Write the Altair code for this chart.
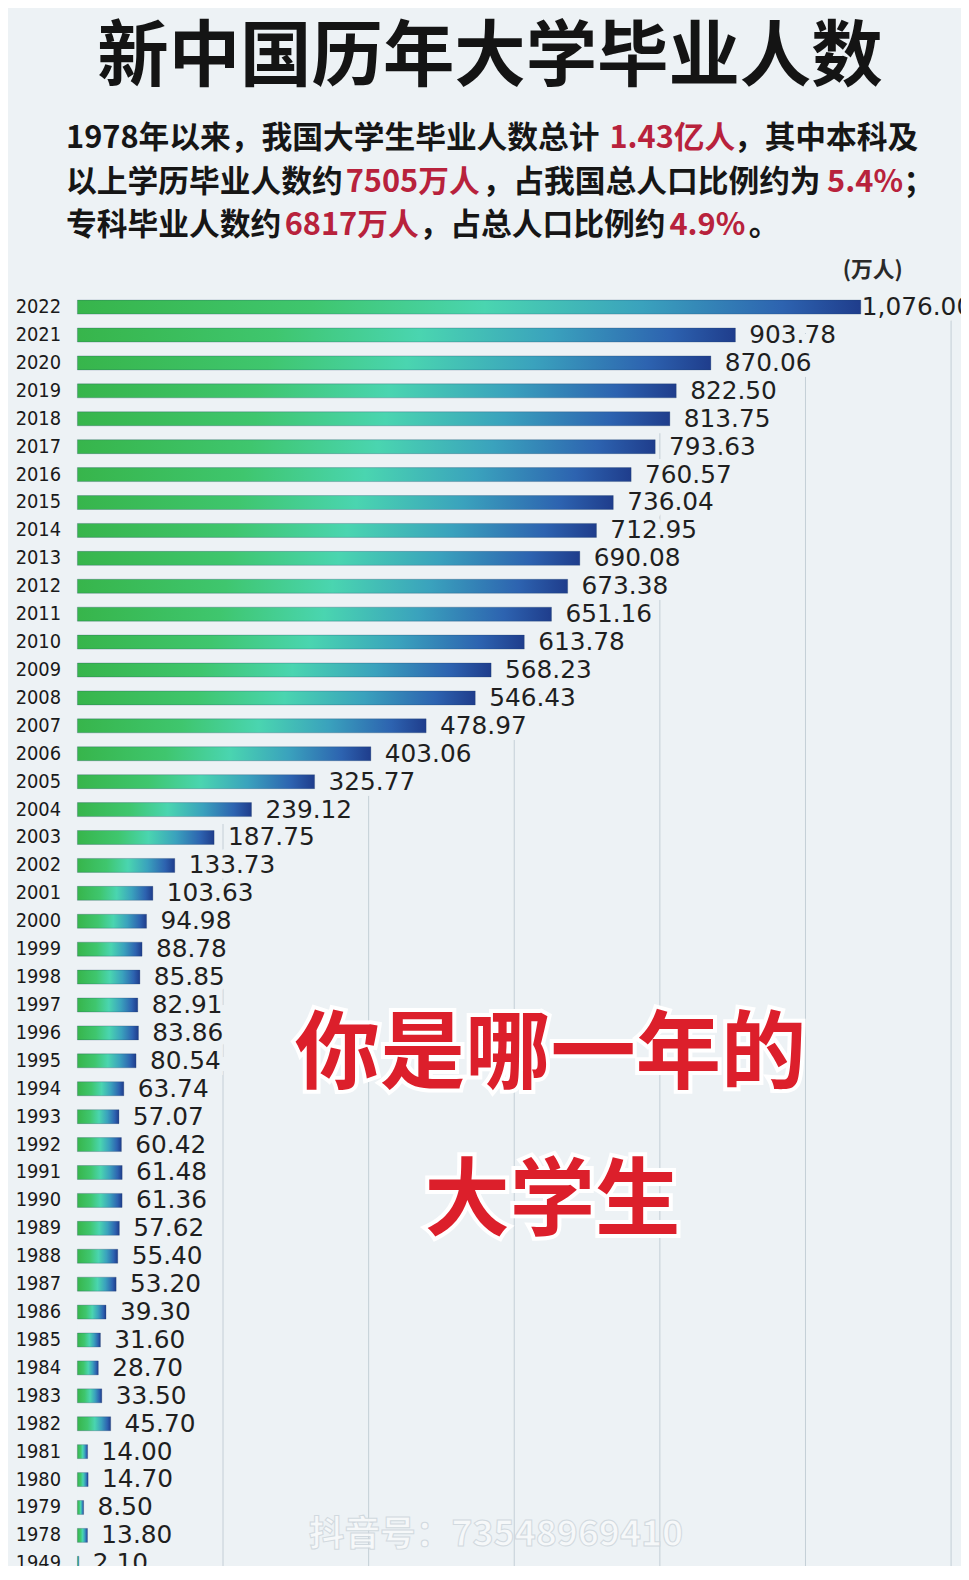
import altair as alt
import pandas as pd

# ---------------- data ----------------
years = ["2022", "2021", "2020", "2019", "2018", "2017", "2016", "2015", "2014", "2013",
         "2012", "2011", "2010", "2009", "2008", "2007", "2006", "2005", "2004", "2003",
         "2002", "2001", "2000", "1999", "1998", "1997", "1996", "1995", "1994", "1993",
         "1992", "1991", "1990", "1989", "1988", "1987", "1986", "1985", "1984", "1983",
         "1982", "1981", "1980", "1979", "1978", "1949"]
graduates = [1076.00, 903.78, 870.06, 822.50, 813.75, 793.63, 760.57, 736.04, 712.95, 690.08,
             673.38, 651.16, 613.78, 568.23, 546.43, 478.97, 403.06, 325.77, 239.12, 187.75,
             133.73, 103.63, 94.98, 88.78, 85.85, 82.91, 83.86, 80.54, 63.74, 57.07,
             60.42, 61.48, 61.36, 57.62, 55.40, 53.20, 39.30, 31.60, 28.70, 33.50,
             45.70, 14.00, 14.70, 8.50, 13.80, 2.10]
grid_values = [200, 400, 600, 800, 1000, 1200]

title_text = "新中国历年大学毕业人数"
unit_text = "(万人)"
# subtitle lines as (text, is_highlight) segments
sub_line1 = [("1978年以来，我国大学生毕业人数总计", False), ("1.43亿人", True), ("，其中本科及", False)]
sub_line2 = [("以上学历毕业人数约", False), ("7505万人", True), ("，占我国总人口比例约为", False),
             ("5.4%", True), ("；", False)]
sub_line3 = [("专科毕业人数约", False), ("6817万人", True), ("，占总人口比例约", False),
             ("4.9%", True), ("。", False)]
overlay_line1 = "你是哪一年的"
overlay_line2 = "大学生"
watermark = "抖音号：73548969410"

df = pd.DataFrame({"year": years, "value": graduates})
grid_df = pd.DataFrame({"g": grid_values})

# ---------------- layout ----------------
OX, OY = 78, 289          # page position of the plot origin
W, H = 881, 1277
STEP = 28.15
BG = "#edf2f5"
RED = "#b8223c"
CJK = "Noto Sans CJK SC"


def vx(px):
    return px - OX


def vy(py):
    return py - OY


xscale = alt.Scale(domain=[0, 1200], nice=False, zero=True)
yscale = alt.Scale(paddingInner=0.5, paddingOuter=0.25, range=[0, STEP * len(years)])
Y = alt.Y("year:N", sort=years, scale=yscale)

base = alt.Chart(df)

grid = alt.Chart(grid_df).mark_rule(color="#c3ced6", strokeWidth=1).encode(
    x=alt.X("g:Q", scale=xscale, axis=None),
    y=alt.value(0),
    y2=alt.value(1320),
)

# background band behind each bar + label (hides grid lines like the original)
band_bg = base.mark_bar(color=BG, size=STEP + 1).encode(
    x=alt.X("value:Q", scale=xscale, axis=None),
    y=alt.Y("year:N", sort=years, scale=yscale,
            axis=alt.Axis(title=None, domain=False, ticks=False, grid=False,
                          labelFont="DejaVu Sans Condensed", labelFontSize=20,
                          labelColor="#1a1a1a", labelPadding=17, labelAlign="right")),
)

gradient = alt.Gradient(
    gradient="linear",
    stops=[
        alt.GradientStop(color="#37b54b", offset=0),
        alt.GradientStop(color="#3fc66e", offset=0.3),
        alt.GradientStop(color="#4ad5b0", offset=0.52),
        alt.GradientStop(color="#3aa2bd", offset=0.72),
        alt.GradientStop(color="#2d63b0", offset=0.9),
        alt.GradientStop(color="#1f3d8c", offset=1),
    ],
    x1=0, x2=1, y1=0, y2=0,
)

bars = base.mark_bar(color=gradient, stroke="#1d3f66", strokeWidth=0.6, strokeOpacity=0.45).encode(
    x=alt.X("value:Q", scale=xscale),
    y=Y,
)

label_common = dict(align="left", baseline="middle", font="DejaVu Sans", fontSize=25)
big = "datum.value >= 1000"
small = "datum.value < 1000"


def value_text(dx, cond, **kw):
    return base.transform_filter(cond).mark_text(dx=dx, **label_common, **kw).encode(
        x=alt.X("value:Q", scale=xscale),
        y=Y,
        text=alt.Text("value:Q", format=",.2f"),
    )


halo_small = value_text(14, small, color=BG, stroke=BG, strokeWidth=12)
halo_big = value_text(1, big, color=BG, stroke=BG, strokeWidth=12)
labels_small = value_text(14, small, color="#1f1f1f")
labels_big = value_text(1, big, color="#1f1f1f")


def txt(text, x, y, **kw):
    return alt.Chart(pd.DataFrame({"t": [text]})).mark_text(**kw).encode(
        text="t:N", x=alt.value(x), y=alt.value(y)
    )


ann = []
ann.append(txt(title_text, vx(494), vy(52), font=CJK, fontSize=72, fontWeight="bold",
               color="#141414", align="center", baseline="middle"))

line_specs = [
    (sub_line1, [66.5, 614.5, 740], 134),
    (sub_line2, [66.5, 348.5, 486.5, 834, 911], 178),
    (sub_line3, [66.5, 287, 423, 675, 755], 221),
]
for segs, xs, yy in line_specs:
    for (t, hi), xx in zip(segs, xs):
        ann.append(txt(t, vx(xx), vy(yy), font=CJK, fontSize=31, fontWeight="bold",
                       color=RED if hi else "#161616", align="left", baseline="middle"))

ann.append(txt(unit_text, vx(880), vy(266), font=CJK, fontSize=22, fontWeight="bold",
               color="#2a2a2a", align="center", baseline="middle"))

for t, xx, yy in [(overlay_line1, 555, 1058), (overlay_line2, 557, 1207)]:
    ann.append(txt(t, vx(xx), vy(yy), font=CJK, fontSize=86, fontWeight="bold",
                   color="#ffffff", stroke="#ffffff", strokeWidth=8,
                   align="center", baseline="middle"))
    ann.append(txt(t, vx(xx), vy(yy), font=CJK, fontSize=86, fontWeight="bold",
                   color="#dc1f2b", align="center", baseline="middle"))

ann.append(txt(watermark, vx(500), vy(1541), font=CJK, fontSize=36, fontWeight="bold",
               color="#f7f9fa", stroke="#cfd7dd", strokeWidth=1, opacity=0.9,
               align="center", baseline="middle"))

chart = alt.layer(grid, band_bg, halo_small, halo_big, bars, labels_small, labels_big, *ann).properties(
    width=W, height=H,
    padding={"left": 70, "top": 281, "right": 10, "bottom": 0},
    autosize=alt.AutoSizeParams(type="none"),
).configure(background=BG).configure_view(stroke=None)

chart.save("out.html", embed_options={"renderer": "svg", "actions": False})
